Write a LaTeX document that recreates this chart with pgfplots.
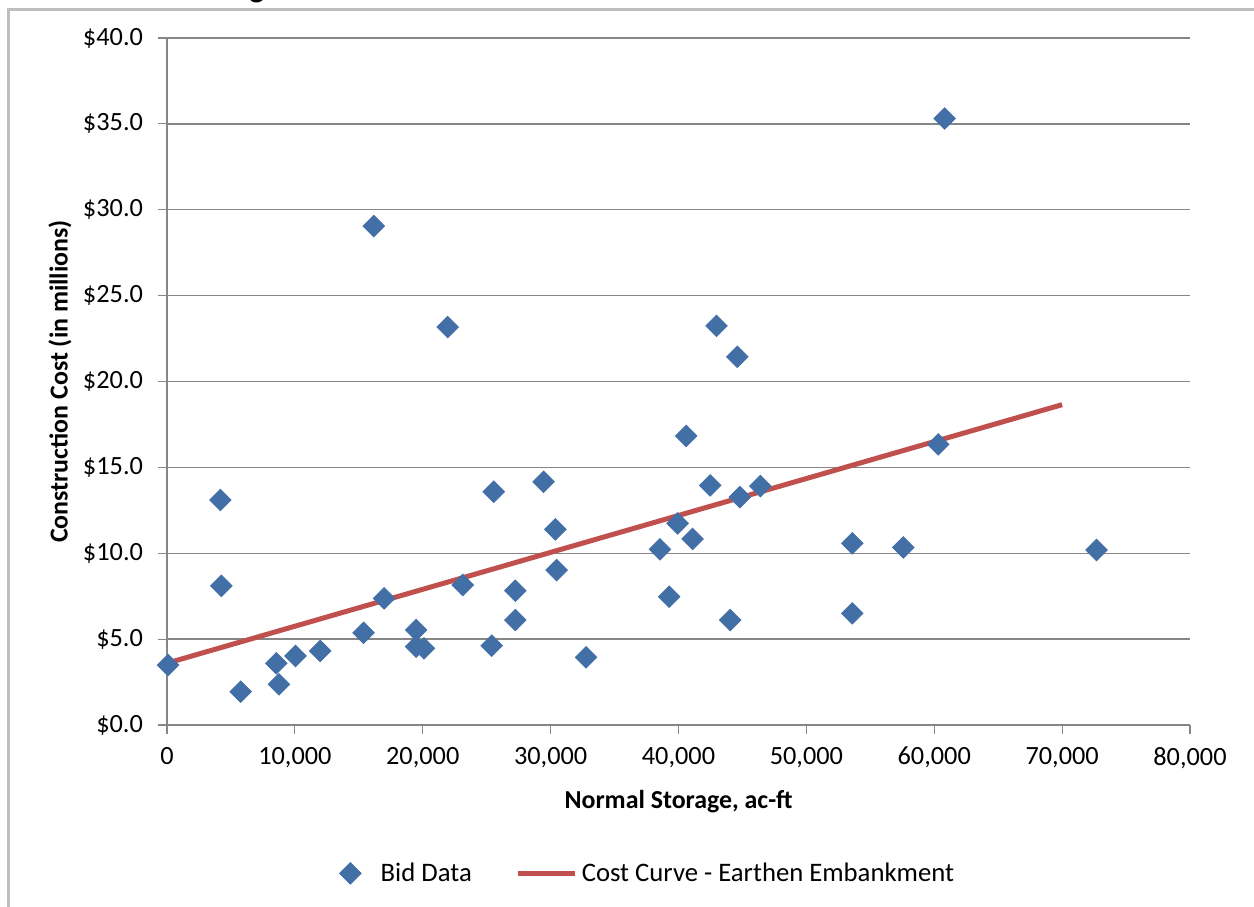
\documentclass[border=0pt]{standalone}
\usepackage{pgfplots}
\pgfplotsset{compat=1.18}
\usepackage{fontspec}
\setmainfont{Carlito}
\definecolor{bidblue}{RGB}{67,111,167}
\definecolor{curvered}{RGB}{192,80,77}
\definecolor{gridgray}{RGB}{134,134,134}
\definecolor{framegray}{RGB}{190,190,190}
\pgfplotsset{
  shortline/.style={legend image code/.code={\draw[##1] (0bp,0bp) -- (28.5bp,0bp);}},
  singlemark/.style={legend image code/.code={\draw plot[##1] coordinates {(0bp,0bp)}; \path (13bp,0bp);}}
}
\begin{document}
\begin{tikzpicture}
\path[use as bounding box] (0bp,0bp) rectangle (627bp,453.5bp);
\draw[framegray, line width=1.5bp] (4bp,0bp) -- (4bp,448.75bp) -- (640bp,448.75bp);
\node[font=\fontsize{16}{18}\selectfont\bfseries, anchor=base, inner sep=0pt] at (128.5bp,454.5bp) {g};
\begin{axis}[
  at={(83.5bp,91bp)}, anchor=south west,
  scale only axis, width=511.5bp, height=343.5bp,
  xmin=0, xmax=80000, ymin=0, ymax=40,
  xtick={0,10000,...,80000}, ytick={0,5,...,40},
  axis x line=bottom, axis y line=left,
  axis line style={gridgray, line width=0.7bp, -},
  ymajorgrids, grid style={gridgray, line width=0.65bp},
  tick align=outside, major tick length=4.5bp,
  tick style={gridgray, line width=0.6bp},
  /pgf/number format/assume math mode=true,
  scaled x ticks=false,
  tick label style={font=\fontsize{13.2}{15}\selectfont},
  xticklabel style={/pgf/number format/1000 sep={,}, yshift=-3bp},
  yticklabel style={xshift=-4bp},
  yticklabel={\$\pgfmathprintnumber[fixed,fixed zerofill,precision=1]{\tick}},
  xlabel={Normal Storage, ac-ft},
  ylabel={Construction Cost (in millions)},
  label style={font=\fontsize{13}{15}\selectfont\bfseries},
  xlabel style={at={(axis description cs:0.5,-0.111)}, anchor=center},
  ylabel style={at={(axis description cs:-0.1046,0.5)}, anchor=center},
  clip=false,
  legend columns=2,
  legend style={at={(axis description cs:0.471,-0.216)}, anchor=center, draw=none, fill=none,
    font=\fontsize{13.4}{15}\selectfont,
    /tikz/every even column/.append style={column sep=20bp}},
]
\addplot[only marks, mark=square*, mark size=3.8bp, singlemark,
  mark options={rotate=45, fill=bidblue, draw=bidblue, line width=0.4bp}] coordinates {
(80,3.49) (4170,13.1) (4250,8.1) (5760,1.94) (8550,3.59) (8750,2.37)
(10050,4.02) (11980,4.31) (15370,5.37) (16170,29.05) (16980,7.37)
(19480,5.53) (19480,4.56) (20100,4.46) (21950,23.17) (23130,8.15)
(25390,4.62) (25550,13.58) (27240,7.82) (27240,6.11) (29450,14.16)
(30370,11.39) (30470,9.02) (32770,3.94) (38550,10.23) (39270,7.47)
(39930,11.74) (40600,16.83) (41100,10.83) (42480,13.95) (42970,23.24)
(44040,6.11) (44600,21.44) (44800,13.27) (46400,13.91) (53590,10.58)
(53590,6.5) (57580,10.34) (60310,16.34) (60810,35.31) (72690,10.19)
};
\addlegendentry{Bid Data}
\addplot[curvered, line width=2.5bp, no marks, shortline] coordinates {
(0,3.6) (70000,18.65)
};
\addlegendentry{Cost Curve - Earthen Embankment}
\end{axis}
\end{tikzpicture}
\end{document}
